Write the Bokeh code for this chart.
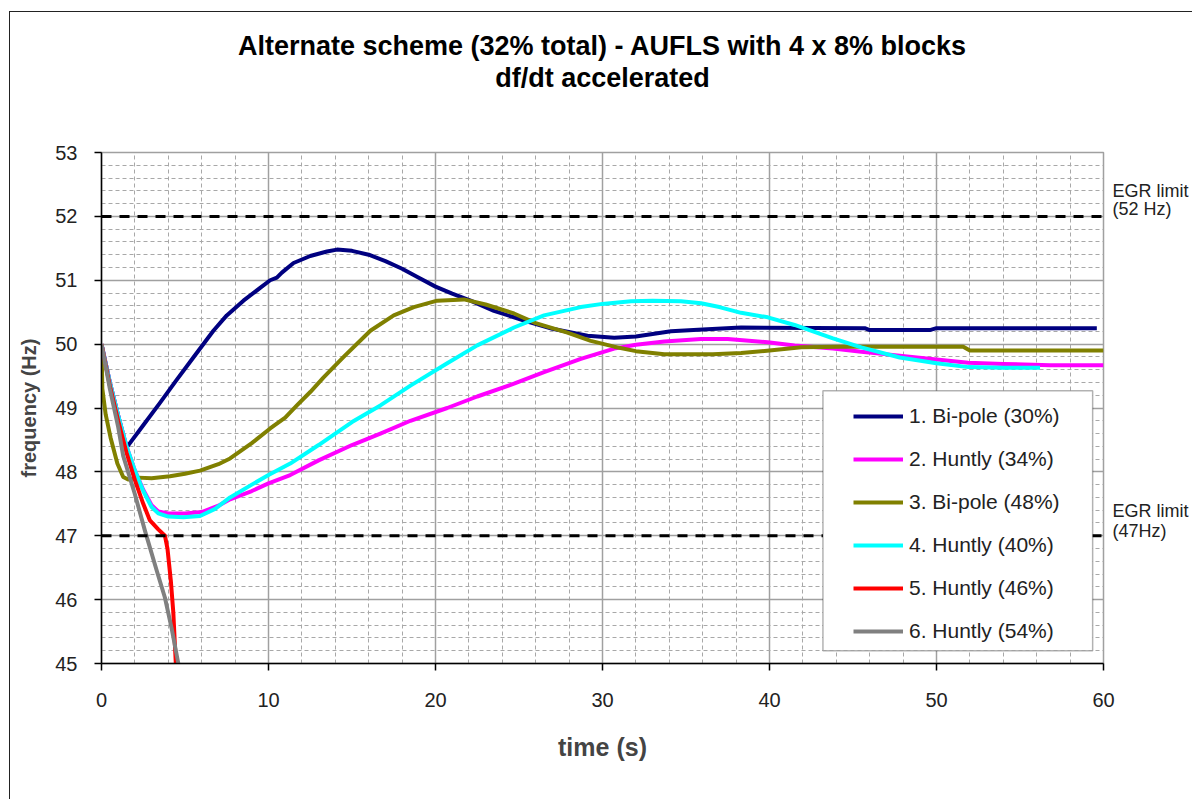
from bokeh.plotting import figure
from bokeh.models import (FixedTicker, Legend, LegendItem, Span, Title,
                          BoxAnnotation, Range1d, LinearAxis, InlineStyleSheet)
from bokeh.embed import file_html
from bokeh.resources import INLINE

FONT = "Liberation Sans"

# ---- simulated frequency responses (time in s, frequency in Hz) ----
t1 = [0, 0.5, 1.0, 1.5, 2.5, 3.5, 4.5, 5.5, 6.7, 7.5, 8.5, 9.5, 10.1, 10.5, 10.8,
      11.5, 12.5, 13.5, 14.1, 15.0, 16.0, 17.0, 18.0, 19.0, 20.0, 21.0, 22.1, 23.5,
      25.3, 27.0, 29.1, 30.7, 32.0, 34.1, 36.0, 38.3, 45.7, 46.0, 49.6, 50.0, 59.6]
f1 = [50.0, 49.4, 48.88, 48.38, 48.73, 49.08, 49.44, 49.79, 50.21, 50.45, 50.68,
      50.88, 51.0, 51.04, 51.12, 51.27, 51.38, 51.45, 51.48, 51.46, 51.4, 51.3,
      51.18, 51.04, 50.9, 50.79, 50.68, 50.52, 50.37, 50.24, 50.13, 50.1, 50.12,
      50.2, 50.23, 50.26, 50.25, 50.22, 50.22, 50.25, 50.25]

t2 = [0, 0.5, 1.0, 1.5, 2.0, 2.5, 3.0, 3.4, 4.0, 5.0, 6.0, 7.0, 7.7, 9.0, 10.0,
      11.3, 13.0, 15.0, 16.7, 18.5, 20.7, 22.5, 24.7, 26.5, 28.7, 30.7, 32.0, 33.7,
      35.9, 37.5, 39.9, 41.5, 43.8, 45.5, 47.8, 50.0, 51.9, 54.0, 56.8, 60.0]
f2 = [50.0, 49.4, 48.88, 48.4, 48.02, 47.72, 47.48, 47.38, 47.35, 47.35, 47.37,
      47.47, 47.57, 47.7, 47.82, 47.95, 48.18, 48.42, 48.6, 48.8, 49.0, 49.18,
      49.38, 49.56, 49.77, 49.93, 49.99, 50.04, 50.08, 50.08, 50.03, 49.98, 49.93,
      49.88, 49.82, 49.76, 49.71, 49.69, 49.67, 49.67]

t3 = [0, 0.05, 0.25, 0.54, 0.95, 1.3, 1.6, 2.2, 3.0, 4.1, 5.0, 5.9, 7.0, 7.7, 9.0,
      10.1, 11.0, 11.7, 12.5, 13.3, 14.5, 16.1, 17.5, 18.7, 20.1, 21.7, 23.0, 24.7,
      26.0, 27.9, 29.3, 30.7, 32.0, 33.7, 36.6, 38.3, 40.0, 41.9, 44.3, 51.6, 52.0,
      60.0]
f3 = [50.0, 49.3, 48.9, 48.54, 48.13, 47.92, 47.88, 47.91, 47.9, 47.93, 47.97,
      48.02, 48.12, 48.21, 48.45, 48.68, 48.85, 49.04, 49.25, 49.48, 49.8, 50.21,
      50.45, 50.58, 50.68, 50.7, 50.62, 50.48, 50.33, 50.18, 50.05, 49.96, 49.89,
      49.84, 49.84, 49.86, 49.9, 49.95, 49.96, 49.96, 49.9, 49.9]

t4 = [0, 0.5, 1.0, 1.5, 2.0, 2.5, 3.0, 3.4, 4.0, 4.9, 5.9, 6.8, 7.7, 9.0, 10.0,
      11.3, 13.0, 15.0, 16.7, 18.5, 20.7, 22.5, 24.7, 26.5, 28.7, 30.0, 31.7, 33.0,
      34.7, 35.9, 37.0, 38.3, 39.9, 41.5, 43.8, 45.5, 47.8, 50.0, 51.9, 54.0, 56.2]
f4 = [50.0, 49.4, 48.88, 48.4, 48.02, 47.7, 47.45, 47.35, 47.3, 47.29, 47.31,
      47.42, 47.6, 47.8, 47.95, 48.13, 48.42, 48.78, 49.04, 49.35, 49.7, 49.98,
      50.26, 50.45, 50.58, 50.63, 50.67, 50.68, 50.67, 50.64, 50.58, 50.49, 50.42,
      50.3, 50.09, 49.95, 49.79, 49.7, 49.64, 49.63, 49.63]

t5 = [0, 0.5, 1.0, 1.5, 2.0, 2.5, 2.9, 3.4, 3.8, 3.95, 4.15, 4.3, 4.45]
f5 = [50.0, 49.35, 48.8, 48.3, 47.87, 47.5, 47.24, 47.1, 47.0, 46.8, 46.3, 45.8, 45.0]

t6 = [0, 0.5, 1.0, 1.3, 2.0, 2.6, 3.3, 3.8, 4.2, 4.6]
f6 = [50.0, 49.3, 48.7, 48.25, 47.65, 47.08, 46.46, 46.03, 45.55, 45.0]

names = ["1. Bi-pole (30%)", "2. Huntly (34%)", "3. Bi-pole (48%)",
         "4. Huntly (40%)", "5. Huntly (46%)", "6. Huntly (54%)"]
colors = ["#000080", "#ff00ff", "#808000", "#00ffff", "#ff0000", "#808080"]

egr_high = 52
egr_low = 47
egr_notes = {52.4: "EGR limit", 52.12: "(52 Hz)",
             47.38: "EGR limit", 47.08: "(47Hz)"}

title_lines = ["Alternate scheme (32% total) - AUFLS with 4 x 8% blocks",
               "df/dt accelerated"]

x_ticks = [0, 10, 20, 30, 40, 50, 60]
x_minor = list(range(0, 61, 2))
y_ticks = [45, 46, 47, 48, 49, 50, 51, 52, 53]
y_minor = [round(45 + 0.2 * i, 1) for i in range(41)]

# thin frame round the whole chart area
frame_css = InlineStyleSheet(css="""
:host { position: relative; }
:host::after {
  content: ""; position: absolute; left: 9px; top: 11px;
  width: 1400px; height: 1000px; box-sizing: border-box;
  border: 1.5px solid #222; pointer-events: none;
}
""")

W, H = 1192, 799
p = figure(width=W, height=H, output_backend="svg", toolbar_location=None,
           x_range=Range1d(0, 60), y_range=Range1d(45, 53), title=None,
           min_border_left=101, min_border_right=89, min_border_top=152,
           min_border_bottom=136, stylesheets=[frame_css])
p.background_fill_color = "white"
p.border_fill_color = "white"
p.outline_line_color = "#a0a0a0"
p.outline_line_width = 1.5

# title block: a blank spacer next to the frame, then the two lines
p.add_layout(Title(text=" ", text_font_size="10px", standoff=47), "above")
for line in reversed(title_lines):
    p.add_layout(Title(text=line, align="center", standoff=0, offset=5,
                       text_font=FONT, text_font_size="27px",
                       text_font_style="bold", text_color="black"), "above")

# axes
for ax in (p.xaxis[0], p.yaxis[0]):
    ax.axis_line_color = "black"
    ax.axis_line_width = 1.5
    ax.major_tick_line_color = "black"
    ax.major_tick_line_width = 1.5
    ax.major_tick_out = 7
    ax.major_tick_in = 0
    ax.minor_tick_out = 0
    ax.minor_tick_in = 0
    ax.major_label_text_font = FONT
    ax.major_label_text_font_size = "20px"
    ax.major_label_text_color = "#222222"
    ax.axis_label_text_font = FONT
    ax.axis_label_text_font_style = "bold"

p.xaxis.ticker = FixedTicker(ticks=x_ticks, minor_ticks=x_minor)
p.yaxis.ticker = FixedTicker(ticks=y_ticks, minor_ticks=y_minor)
p.xaxis.axis_label = "time (s)"
p.yaxis.axis_label = "frequency (Hz)"
p.xaxis.axis_label_text_font_size = "25px"
p.yaxis.axis_label_text_font_size = "20px"
p.xaxis.major_label_standoff = 22
p.xaxis.axis_label_standoff = 23
p.yaxis.major_label_standoff = 17
p.yaxis.axis_label_standoff = 12

# notes on the right-hand side next to the limit lines
notes_axis = LinearAxis(ticker=FixedTicker(ticks=list(egr_notes.keys())),
                        major_label_overrides=egr_notes,
                        axis_line_color=None, major_tick_line_color=None,
                        minor_tick_line_color=None, major_tick_out=0,
                        major_tick_in=0, minor_tick_out=0, minor_tick_in=0,
                        major_label_standoff=9,
                        major_label_text_font=FONT,
                        major_label_text_font_size="18px",
                        major_label_text_color="#222222")
p.add_layout(notes_axis, "right")

# grid: solid majors, dashed minors
for g in (p.xgrid[0], p.ygrid[0]):
    g.grid_line_color = "#a0a0a0"
    g.grid_line_width = 1.5
    g.minor_grid_line_color = "#a8a8a8"
    g.minor_grid_line_width = 1
    g.minor_grid_line_dash = "4 3"

# EGR limits
for lvl in (egr_high, egr_low):
    p.add_layout(Span(location=lvl, dimension="width", line_color="black",
                      line_width=3, line_dash="10 8"))

series = [(t1, f1), (t2, f2), (t3, f3), (t4, f4), (t5, f5), (t6, f6)]
renderers = []
for (tt, ff), c in zip(series, colors):
    renderers.append(p.line(tt, ff, line_color=c, line_width=4,
                            line_join="round"))

# legend frame and entries
p.add_layout(BoxAnnotation(left=43.2, right=59.35, top=49.27, bottom=45.2,
                           fill_color="white", fill_alpha=1.0,
                           line_color="black", line_width=1.5))
legend = Legend(items=[LegendItem(label=n, renderers=[r])
                       for n, r in zip(names, renderers)],
                location=(752, 20), padding=0, spacing=19,
                glyph_width=50, glyph_height=20, label_height=20,
                label_standoff=6, label_text_font=FONT,
                label_text_font_size="21px", label_text_color="#222222",
                border_line_alpha=0, background_fill_alpha=0)
p.add_layout(legend)

open("out.html", "w").write(file_html(p, INLINE))
